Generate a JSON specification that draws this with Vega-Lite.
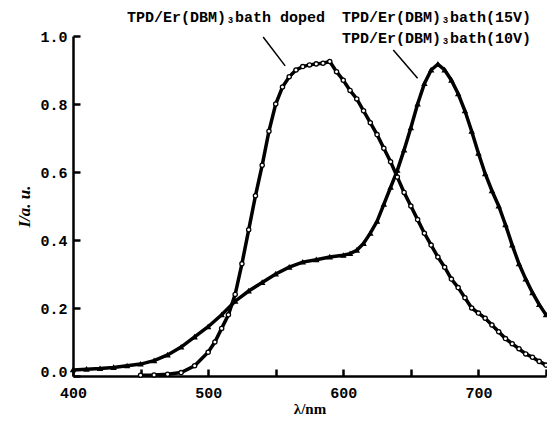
{
  "$schema": "https://vega.github.io/schema/vega-lite/v6.json",
  "width": 473,
  "height": 340,
  "autosize": {"type": "none"},
  "padding": {"left": 73, "top": 36, "right": 1, "bottom": 48},
  "background": "white",
  "config": {"view": {"stroke": null}},
  "datasets": {
    "spec": [
      {"series": "doped", "wl": 450, "I": 0.002}, {"series": "doped", "wl": 460, "I": 0.003}, {"series": "doped", "wl": 470, "I": 0.005},
      {"series": "doped", "wl": 480, "I": 0.01}, {"series": "doped", "wl": 490, "I": 0.03}, {"series": "doped", "wl": 500, "I": 0.07},
      {"series": "doped", "wl": 505, "I": 0.10}, {"series": "doped", "wl": 510, "I": 0.14}, {"series": "doped", "wl": 515, "I": 0.18},
      {"series": "doped", "wl": 520, "I": 0.24}, {"series": "doped", "wl": 525, "I": 0.33}, {"series": "doped", "wl": 530, "I": 0.43},
      {"series": "doped", "wl": 535, "I": 0.53}, {"series": "doped", "wl": 540, "I": 0.62}, {"series": "doped", "wl": 545, "I": 0.72},
      {"series": "doped", "wl": 550, "I": 0.80}, {"series": "doped", "wl": 555, "I": 0.85}, {"series": "doped", "wl": 560, "I": 0.88},
      {"series": "doped", "wl": 565, "I": 0.90}, {"series": "doped", "wl": 570, "I": 0.91}, {"series": "doped", "wl": 575, "I": 0.915},
      {"series": "doped", "wl": 580, "I": 0.918}, {"series": "doped", "wl": 585, "I": 0.92}, {"series": "doped", "wl": 590, "I": 0.925},
      {"series": "doped", "wl": 595, "I": 0.895}, {"series": "doped", "wl": 600, "I": 0.87}, {"series": "doped", "wl": 605, "I": 0.84},
      {"series": "doped", "wl": 610, "I": 0.815}, {"series": "doped", "wl": 615, "I": 0.78}, {"series": "doped", "wl": 620, "I": 0.745},
      {"series": "doped", "wl": 625, "I": 0.71}, {"series": "doped", "wl": 630, "I": 0.67}, {"series": "doped", "wl": 635, "I": 0.63},
      {"series": "doped", "wl": 640, "I": 0.585}, {"series": "doped", "wl": 645, "I": 0.54}, {"series": "doped", "wl": 650, "I": 0.50},
      {"series": "doped", "wl": 655, "I": 0.46}, {"series": "doped", "wl": 660, "I": 0.42}, {"series": "doped", "wl": 665, "I": 0.385},
      {"series": "doped", "wl": 670, "I": 0.35}, {"series": "doped", "wl": 675, "I": 0.32}, {"series": "doped", "wl": 680, "I": 0.285},
      {"series": "doped", "wl": 685, "I": 0.26}, {"series": "doped", "wl": 690, "I": 0.23}, {"series": "doped", "wl": 695, "I": 0.20},
      {"series": "doped", "wl": 700, "I": 0.185}, {"series": "doped", "wl": 705, "I": 0.17}, {"series": "doped", "wl": 710, "I": 0.15},
      {"series": "doped", "wl": 715, "I": 0.13}, {"series": "doped", "wl": 720, "I": 0.11}, {"series": "doped", "wl": 725, "I": 0.095},
      {"series": "doped", "wl": 730, "I": 0.08}, {"series": "doped", "wl": 735, "I": 0.065}, {"series": "doped", "wl": 740, "I": 0.055},
      {"series": "doped", "wl": 745, "I": 0.043}, {"series": "doped", "wl": 750, "I": 0.032},
      {"series": "bath", "wl": 400, "I": 0.018}, {"series": "bath", "wl": 410, "I": 0.02}, {"series": "bath", "wl": 420, "I": 0.022},
      {"series": "bath", "wl": 430, "I": 0.025}, {"series": "bath", "wl": 440, "I": 0.03}, {"series": "bath", "wl": 450, "I": 0.035},
      {"series": "bath", "wl": 460, "I": 0.045}, {"series": "bath", "wl": 470, "I": 0.062}, {"series": "bath", "wl": 480, "I": 0.085},
      {"series": "bath", "wl": 490, "I": 0.115}, {"series": "bath", "wl": 500, "I": 0.145}, {"series": "bath", "wl": 510, "I": 0.18},
      {"series": "bath", "wl": 520, "I": 0.22}, {"series": "bath", "wl": 530, "I": 0.25}, {"series": "bath", "wl": 540, "I": 0.275},
      {"series": "bath", "wl": 550, "I": 0.30}, {"series": "bath", "wl": 560, "I": 0.32}, {"series": "bath", "wl": 570, "I": 0.335},
      {"series": "bath", "wl": 580, "I": 0.342}, {"series": "bath", "wl": 590, "I": 0.35}, {"series": "bath", "wl": 600, "I": 0.355},
      {"series": "bath", "wl": 605, "I": 0.36}, {"series": "bath", "wl": 610, "I": 0.37}, {"series": "bath", "wl": 615, "I": 0.39},
      {"series": "bath", "wl": 620, "I": 0.42}, {"series": "bath", "wl": 625, "I": 0.455}, {"series": "bath", "wl": 630, "I": 0.505},
      {"series": "bath", "wl": 635, "I": 0.555}, {"series": "bath", "wl": 640, "I": 0.605}, {"series": "bath", "wl": 645, "I": 0.665},
      {"series": "bath", "wl": 650, "I": 0.73}, {"series": "bath", "wl": 655, "I": 0.80}, {"series": "bath", "wl": 660, "I": 0.86},
      {"series": "bath", "wl": 665, "I": 0.90}, {"series": "bath", "wl": 670, "I": 0.917}, {"series": "bath", "wl": 675, "I": 0.90},
      {"series": "bath", "wl": 680, "I": 0.87}, {"series": "bath", "wl": 685, "I": 0.83}, {"series": "bath", "wl": 690, "I": 0.78},
      {"series": "bath", "wl": 695, "I": 0.72}, {"series": "bath", "wl": 700, "I": 0.655}, {"series": "bath", "wl": 705, "I": 0.595},
      {"series": "bath", "wl": 710, "I": 0.545}, {"series": "bath", "wl": 715, "I": 0.50}, {"series": "bath", "wl": 720, "I": 0.445},
      {"series": "bath", "wl": 725, "I": 0.385}, {"series": "bath", "wl": 730, "I": 0.33}, {"series": "bath", "wl": 735, "I": 0.285},
      {"series": "bath", "wl": 740, "I": 0.245}, {"series": "bath", "wl": 745, "I": 0.21}, {"series": "bath", "wl": 750, "I": 0.18}
    ],
    "labels": [
      {"text": "TPD/Er(DBM)₃bath doped", "wl": 440, "I": 1.056},
      {"text": "TPD/Er(DBM)₃bath(15V)", "wl": 599, "I": 1.056},
      {"text": "TPD/Er(DBM)₃bath(10V)", "wl": 599, "I": 0.994}
    ],
    "arrows": [
      {"wl": 540.7, "I": 0.997, "wl2": 557, "I2": 0.912},
      {"wl": 637, "I": 0.959, "wl2": 655, "I2": 0.876}
    ]
  },
  "layer": [
    {
      "data": {"name": "spec"},
      "mark": {"type": "line", "color": "black", "strokeWidth": 3.5},
      "encoding": {
        "x": {
          "field": "wl", "type": "quantitative",
          "scale": {"domain": [400, 750], "nice": false, "zero": false},
          "axis": {
            "title": "λ/nm",
            "values": [400, 450, 500, 550, 600, 650, 700, 750],
            "labelExpr": "datum.value % 100 === 0 ? datum.label : ''",
            "labelFont": "Liberation Mono", "labelFontWeight": "bold", "labelFontSize": 15, "labelColor": "black",
            "labelPadding": 16, "labelFlush": false, "labelOverlap": false,
            "tickSize": -7,
            "tickWidth": 2.5, "tickColor": "black",
            "domainColor": "black", "domainWidth": 2.5,
            "grid": false,
            "titleFont": "Liberation Serif", "titleFontSize": 15, "titleFontWeight": "bold", "titleColor": "black", "titlePadding": 1
          }
        },
        "y": {
          "field": "I", "type": "quantitative",
          "scale": {"domain": [0, 1], "nice": false},
          "axis": {
            "title": "I/a. u.",
            "values": [0, 0.1, 0.2, 0.3, 0.4, 0.5, 0.6, 0.7, 0.8, 0.9, 1.0],
            "format": ".1f",
            "labelExpr": "round(datum.value * 10) % 2 === 0 ? datum.label : ''",
            "labelFont": "Liberation Mono", "labelFontWeight": "bold", "labelFontSize": 15, "labelColor": "black",
            "labelPadding": 13, "labelFlush": false, "labelOverlap": false,
            "labelOffset": {"condition": {"test": "datum.value === 0", "value": -5}, "value": 0},
            "tickSize": -7,
            "tickWidth": 2.5, "tickColor": "black",
            "domainColor": "black", "domainWidth": 2.5,
            "grid": false,
            "titleFont": "Liberation Serif", "titleFontSize": 17, "titleFontWeight": "bold", "titleFontStyle": "italic", "titleColor": "black", "titlePadding": 6
          }
        },
        "detail": {"field": "series"}
      }
    },
    {
      "data": {"name": "spec"},
      "mark": {"type": "point", "color": "black", "size": 18, "strokeWidth": 1.3, "opacity": 1},
      "encoding": {
        "x": {"field": "wl", "type": "quantitative"},
        "y": {"field": "I", "type": "quantitative"},
        "shape": {"field": "series", "type": "nominal", "scale": {"domain": ["doped", "bath"], "range": ["circle", "triangle-up"]}, "legend": null},
        "fill": {"field": "series", "type": "nominal", "scale": {"domain": ["doped", "bath"], "range": ["white", "black"]}, "legend": null}
      }
    },
    {
      "data": {"name": "arrows"},
      "mark": {"type": "rule", "color": "black", "strokeWidth": 1.5},
      "encoding": {
        "x": {"field": "wl", "type": "quantitative"},
        "y": {"field": "I", "type": "quantitative"},
        "x2": {"field": "wl2"},
        "y2": {"field": "I2"}
      }
    },
    {
      "data": {"name": "labels"},
      "mark": {"type": "text", "align": "left", "baseline": "middle", "font": "Liberation Mono", "fontWeight": "bold", "fontSize": 15, "color": "black"},
      "encoding": {
        "x": {"field": "wl", "type": "quantitative"},
        "y": {"field": "I", "type": "quantitative"},
        "text": {"field": "text"}
      }
    }
  ]
}
